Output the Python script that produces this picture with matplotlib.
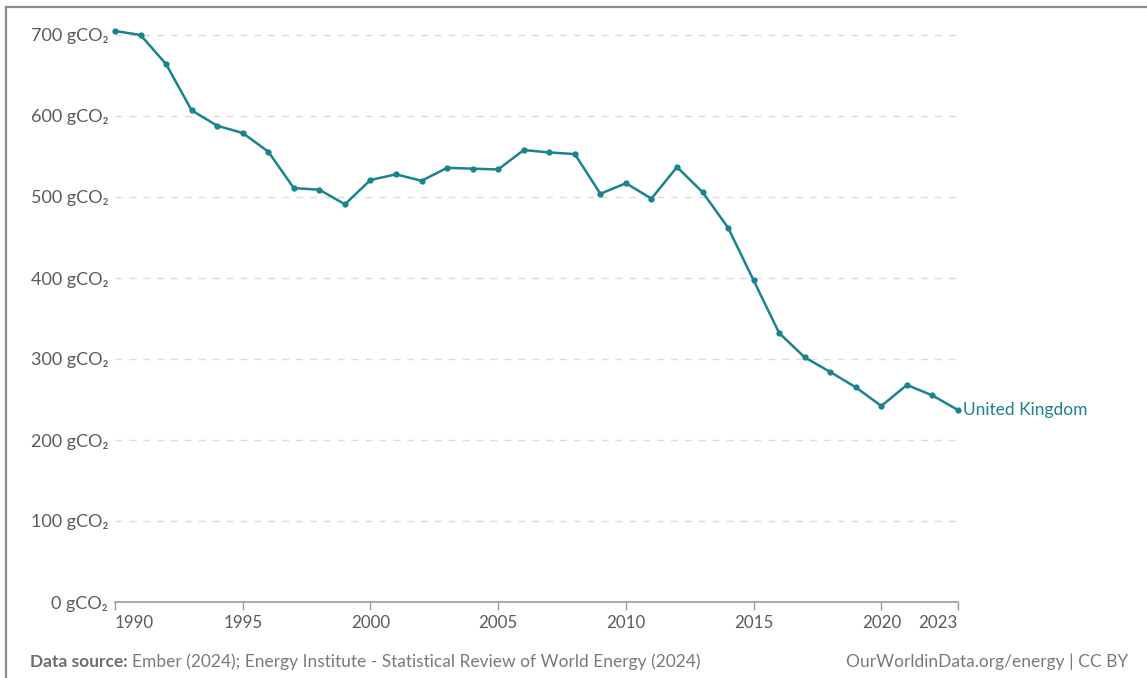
"""
Carbon intensity of electricity generation, United Kingdom, 1990-2023.
"""
import numpy as np
import matplotlib
matplotlib.use("Agg")
import matplotlib.pyplot as plt
from matplotlib.lines import Line2D

plt.rcParams['font.family'] = ['Lato', 'DejaVu Sans']

# data (gCO2 per kWh)
years = list(range(1990, 2024))
intensity = [705, 700, 664, 607, 588, 579, 556, 511, 509, 491,
             521, 528, 520, 536, 535, 534, 558, 555, 553, 504,
             517, 498, 537, 506, 462, 397, 332, 302, 284, 265,
             242, 268, 255, 237]
country = "United Kingdom"
y_ticks = [0, 100, 200, 300, 400, 500, 600, 700]
x_ticks = [1990, 1995, 2000, 2005, 2010, 2015, 2020, 2023]

teal = '#19838f'
grey_text = '#5b5b5b'

fig = plt.figure(figsize=(11.47, 6.78), dpi=100)
W, H = 1147, 678
ax = fig.add_axes([115 / W, 1 - 602 / H, (958 - 115) / W, (602 - 26.9) / H])

ax.plot(years, intensity, color=teal, lw=1.8, marker='o', ms=3.5, clip_on=False, zorder=3)
ax.text(years[-1] + 0.2, intensity[-1], country, color=teal, fontsize=12.5,
        va='center', ha='left')

ax.set_xlim(1990, 2023)
ax.set_ylim(0, 710)

# dashed horizontal grid
for v in y_ticks[1:]:
    ax.axhline(v, color='#dcdcdc', lw=1, ls=(0, (5, 5)), zorder=1)

ax.set_yticks(y_ticks)
ax.set_yticklabels([f"{v} gCO₂" for v in y_ticks])
ax.set_xticks(x_ticks)
ax.set_xticklabels([str(x) for x in x_ticks])

for s in ['top', 'right', 'left']:
    ax.spines[s].set_visible(False)
ax.spines['bottom'].set_color('#9a9a9a')
ax.spines['bottom'].set_linewidth(1.2)

ax.tick_params(axis='y', length=0, pad=5, labelsize=13, labelcolor=grey_text)
ax.tick_params(axis='x', length=6, width=1, color='#9a9a9a', pad=3,
               labelsize=12.2, labelcolor=grey_text)
# first and last year labels sit inside the axis ends
xl = ax.get_xticklabels()
xl[0].set_horizontalalignment('left')
xl[-1].set_horizontalalignment('right')

# footer
fig.canvas.draw()
rend = fig.canvas.get_renderer()
t1 = fig.text(30 / W, 1 - 662 / H, "Data source:", fontsize=12.5, fontweight='bold',
              color='#6e6e6e', va='center', ha='left')
bb = t1.get_window_extent(renderer=rend)
fig.text((bb.x1 + 4) / W, 1 - 662 / H,
         "Ember (2024); Energy Institute - Statistical Review of World Energy (2024)",
         fontsize=12.5, color='#7a7a7a', va='center', ha='left')
fig.text(1128 / W, 1 - 662 / H, "OurWorldinData.org/energy | CC BY",
         fontsize=12.5, color='#7a7a7a', va='center', ha='right')

# frame of the screenshot (top and left edge)
fig.add_artist(Line2D([6 / W, 1], [1 - 7 / H, 1 - 7 / H], color='#8c8c8c', lw=1.6))
fig.add_artist(Line2D([6 / W, 6 / W], [0, 1 - 7 / H], color='#8c8c8c', lw=1.6))

fig.savefig('out.png', dpi=100)
